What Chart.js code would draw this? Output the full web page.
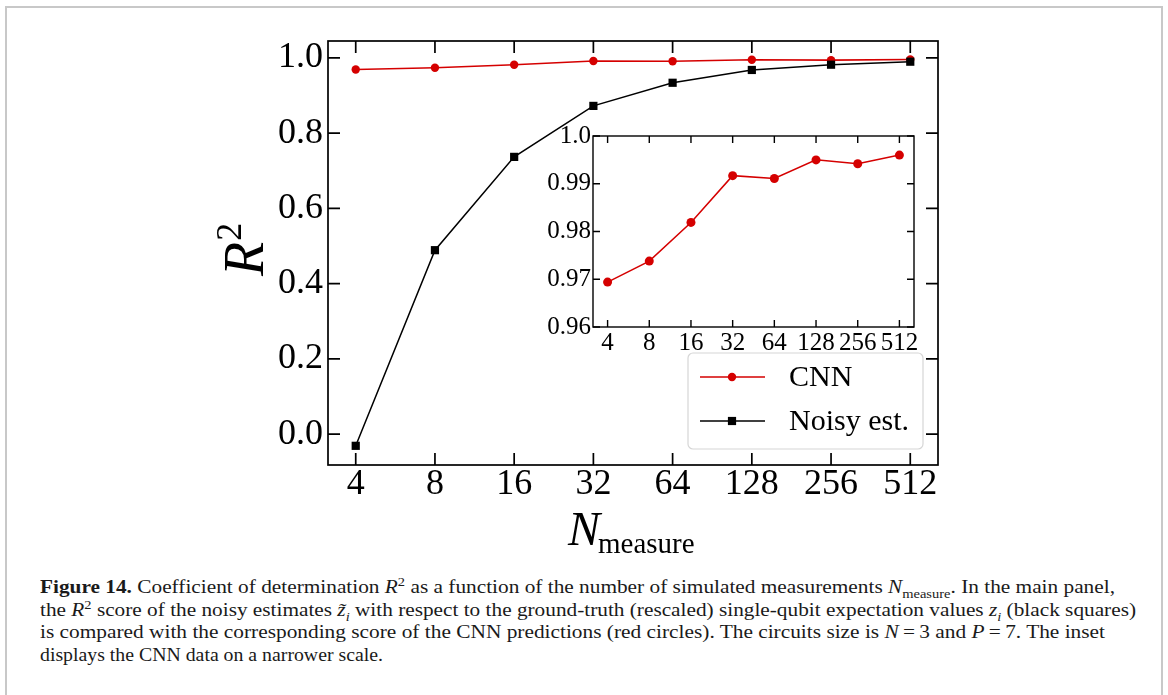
<!DOCTYPE html>
<html>
<head>
<meta charset="utf-8">
<script src="https://cdn.jsdelivr.net/npm/chart.js@4/dist/chart.umd.min.js"></script>
<style>
  body { margin:0; background:#fff; width:1168px; height:695px; overflow:hidden; position:relative; font-family:"Liberation Serif", serif; }
  #frame { position:absolute; left:5px; top:6px; width:1154px; height:720px; border:2px solid #c8c8c8; border-bottom:none; }
  #main { position:absolute; left:0; top:0; }
  #inset { position:absolute; left:490px; top:110px; }
  #caption { position:absolute; left:40px; top:576px; font-size:19.5px; line-height:22.5px; color:#1a1a1a; }
  #caption div { white-space:nowrap; transform-origin:0 0; }
  #caption sup, #caption sub { font-size:0.68em; line-height:0; }
</style>
</head>
<body>
<div id="frame"></div>
<canvas id="main" width="1168" height="560"></canvas>
<canvas id="inset" width="450" height="250"></canvas>
<div id="caption">
  <div><b>Figure 14.</b> Coefficient of determination <i>R</i><sup>2</sup> as a function of the number of simulated measurements <i>N</i><sub>measure</sub>. In the main panel,</div>
  <div>the <i>R</i><sup>2</sup> score of the noisy estimates <i>z&#771;</i><sub><i>i</i></sub> with respect to the ground-truth (rescaled) single-qubit expectation values <i>z</i><sub><i>i</i></sub> (black squares)</div>
  <div>is compared with the corresponding score of the CNN predictions (red circles). The circuits size is <i>N</i>&#8201;=&#8201;3 and <i>P</i>&#8201;=&#8201;7. The inset</div>
  <div>displays the CNN data on a narrower scale.</div>
</div>
<script>
// values
const nMeasure = ['4', '8', '16', '32', '64', '128', '256', '512'];
const cnnR2 = [0.9694, 0.9738, 0.9819, 0.9917, 0.9911, 0.9950, 0.9942, 0.9960];
const noisyR2 = [-0.031, 0.489, 0.737, 0.8725, 0.934, 0.968, 0.982, 0.990];
const mainYTicks = [0, 0.2, 0.4, 0.6, 0.8, 1.0];
const insetYTicks = [0.96, 0.97, 0.98, 0.99, 1.0];

const RED = '#d50000';
const BLACK = '#000000';
const FONT = '"Liberation Serif", serif';

function pts(vals) {
  return vals.map((v, i) => ({x: i, y: v}));
}

// matplotlib style frame with inward ticks on all four sides
function frameTicks(len, lw) {
  return {
    id: 'frameTicks',
    beforeDraw(chart) {
      const a = chart.chartArea, ctx = chart.ctx;
      ctx.save();
      ctx.fillStyle = '#fff';
      ctx.fillRect(a.left, a.top, a.right - a.left, a.bottom - a.top);
      ctx.restore();
    },
    afterDraw(chart) {
      const {ctx, chartArea: a, scales: {x, y}} = chart;
      ctx.save();
      ctx.strokeStyle = '#000';
      ctx.lineWidth = lw;
      ctx.strokeRect(a.left, a.top, a.right - a.left, a.bottom - a.top);
      ctx.beginPath();
      x.ticks.forEach(t => {
        const px = x.getPixelForValue(t.value);
        ctx.moveTo(px, a.bottom); ctx.lineTo(px, a.bottom - len);
        ctx.moveTo(px, a.top); ctx.lineTo(px, a.top + len);
      });
      y.ticks.forEach(t => {
        const py = y.getPixelForValue(t.value);
        ctx.moveTo(a.left, py); ctx.lineTo(a.left + len, py);
        ctx.moveTo(a.right, py); ctx.lineTo(a.right - len, py);
      });
      ctx.stroke();
      ctx.restore();
    }
  };
}

const axisTitles = {
  id: 'axisTitles',
  afterDraw(chart) {
    const ctx = chart.ctx;
    ctx.save();
    ctx.fillStyle = '#000';
    ctx.textBaseline = 'alphabetic';
    // y title R^2
    ctx.translate(263, 276);
    ctx.rotate(-Math.PI / 2);
    ctx.font = 'italic 56px ' + FONT;
    ctx.fillText('R', 0, 0);
    const w = ctx.measureText('R').width;
    ctx.font = '36px ' + FONT;
    ctx.fillText('2', w + 1, -22);
    ctx.restore();
    // x title N_measure
    ctx.save();
    ctx.fillStyle = '#000';
    ctx.font = 'italic 48px ' + FONT;
    ctx.fillText('N', 568, 545);
    const wn = ctx.measureText('N').width;
    ctx.font = '29px ' + FONT;
    ctx.fillText('measure', 568 + wn - 2, 553);
    ctx.restore();
  }
};

const legendBox = {
  id: 'legendBox',
  afterDraw(chart) {
    const ctx = chart.ctx;
    const x0 = 688, y0 = 353, w = 235, h = 96, r = 5;
    ctx.save();
    ctx.beginPath();
    ctx.roundRect(x0, y0, w, h, r);
    ctx.fillStyle = 'rgba(255,255,255,0.8)';
    ctx.fill();
    ctx.strokeStyle = '#d6d6d6';
    ctx.lineWidth = 1.2;
    ctx.stroke();
    const rows = [chart.data.datasets[1], chart.data.datasets[0]];
    rows.forEach((ds, i) => {
      const ry = 377 + i * 44;
      ctx.strokeStyle = ds.borderColor;
      ctx.lineWidth = ds.borderWidth;
      ctx.beginPath();
      ctx.moveTo(700, ry); ctx.lineTo(765, ry);
      ctx.stroke();
      ctx.fillStyle = ds.pointBackgroundColor;
      ctx.strokeStyle = ds.pointBorderColor;
      Chart.helpers.drawPoint(ctx, {pointStyle: ds.pointStyle, radius: ds.pointRadius, rotation: 0, borderWidth: 0}, 732, ry);
      ctx.fillStyle = '#000';
      ctx.font = '30px ' + FONT;
      ctx.textBaseline = 'middle';
      ctx.fillText(ds.label, 789, ry + 1);
    });
    ctx.restore();
  }
};

function xScale(fontSize, pad) {
  return {
    type: 'linear', min: -0.35, max: 7.35,
    afterBuildTicks: s => { s.ticks = nMeasure.map((_, i) => ({value: i})); },
    grid: {display: false, drawTicks: false},
    border: {display: false},
    ticks: {
      color: '#000', padding: pad, maxRotation: 0, autoSkip: false,
      font: {family: FONT, size: fontSize},
      callback: v => nMeasure[v]
    }
  };
}

new Chart(document.getElementById('main'), {
  type: 'line',
  data: {
    datasets: [
      {
        label: 'Noisy est.', data: pts(noisyR2), order: 0,
        borderColor: BLACK, borderWidth: 1.5,
        pointStyle: 'rect', pointRadius: 5.8,
        pointBackgroundColor: BLACK, pointBorderColor: BLACK, pointBorderWidth: 0
      },
      {
        label: 'CNN', data: pts(cnnR2), order: 1,
        borderColor: RED, borderWidth: 1.6,
        pointStyle: 'circle', pointRadius: 4.2,
        pointBackgroundColor: RED, pointBorderColor: RED, pointBorderWidth: 0
      }
    ]
  },
  options: {
    responsive: false, animation: false,
    layout: {padding: {left: 228, right: 230, top: 41, bottom: 35}},
    plugins: {legend: {display: false}, tooltip: {enabled: false}},
    scales: {
      x: Object.assign(xScale(36, -2), {afterFit: s => { s.height = 60; }}),
      y: {
        min: -0.082, max: 1.045,
        afterBuildTicks: s => { s.ticks = mainYTicks.map(v => ({value: v})); },
        afterFit: s => { s.width = 100; },
        grid: {display: false, drawTicks: false},
        border: {display: false},
        ticks: {color: '#000', padding: 5, font: {family: FONT, size: 36}, callback: v => v.toFixed(1)}
      }
    }
  },
  plugins: [frameTicks(12, 1.7), axisTitles, legendBox]
});

new Chart(document.getElementById('inset'), {
  type: 'line',
  data: {
    datasets: [{
      label: 'CNN', data: pts(cnnR2),
      borderColor: RED, borderWidth: 1.5,
      pointStyle: 'circle', pointRadius: 4.5,
      pointBackgroundColor: RED, pointBorderColor: RED, pointBorderWidth: 0
    }]
  },
  options: {
    responsive: false, animation: false,
    layout: {padding: {left: 41, right: 26, top: 26, bottom: 3}},
    plugins: {legend: {display: false}, tooltip: {enabled: false}},
    scales: {
      x: Object.assign(xScale(25, 1), {afterFit: s => { s.height = 30; }}),
      y: {
        min: 0.96, max: 1.0,
        afterBuildTicks: s => { s.ticks = insetYTicks.map(v => ({value: v})); },
        afterFit: s => { s.width = 62; },
        grid: {display: false, drawTicks: false},
        border: {display: false},
        ticks: {color: '#000', padding: 2, font: {family: FONT, size: 25},
          callback: v => (v === 1 ? '1.0' : v.toFixed(2))}
      }
    }
  },
  plugins: [frameTicks(7, 1.4)]
});

// fit caption lines to the widths seen in the figure
const lineWidths = [1075, 1096, 1065, 343];
document.querySelectorAll('#caption div').forEach((d, i) => {
  d.style.display = 'inline-block';
  const real = d.getBoundingClientRect().width;
  d.style.display = 'block';
  d.style.width = real + 'px';
  d.style.transform = 'scaleX(' + (lineWidths[i] / real) + ')';
});
</script>
</body>
</html>
